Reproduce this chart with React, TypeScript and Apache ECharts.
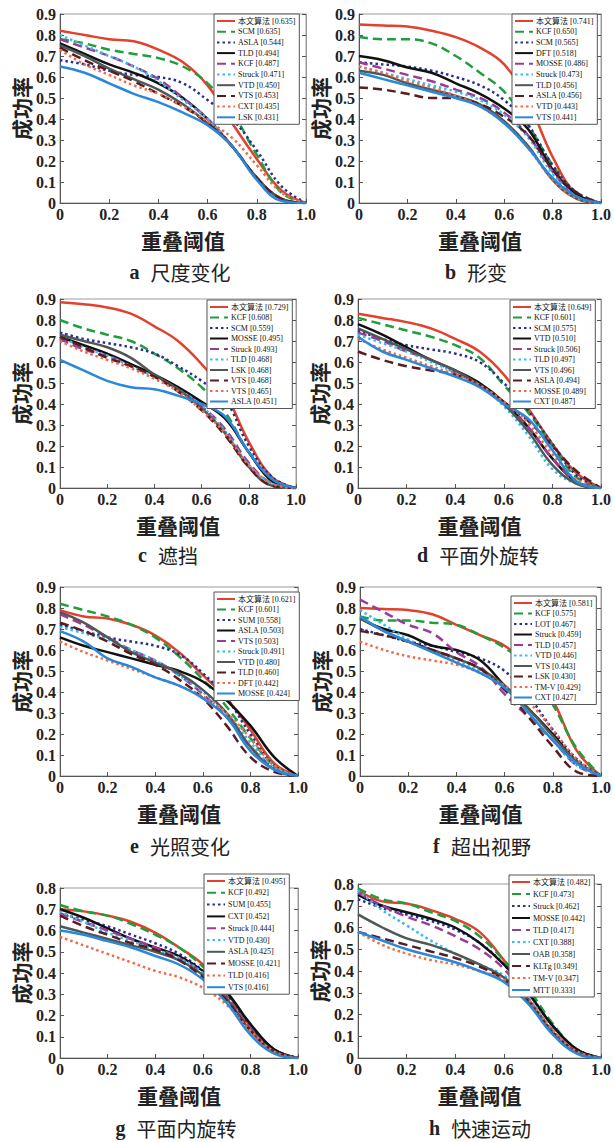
import React, { useEffect, useRef } from "react";
import * as echarts from "echarts";

// thresholds (x axis)
const XS = [0, 0.1, 0.2, 0.3, 0.4, 0.5, 0.6, 0.7, 0.8, 0.9, 1.0];

// a 尺度变化
const aLabels = ["本文算法 [0.635]", "SCM [0.635]", "ASLA [0.544]", "TLD [0.494]", "KCF [0.487]", "Struck [0.471]", "VTD [0.450]", "VTS [0.453]", "CXT [0.435]", "LSK [0.431]"];
const aValues = [
  [0.82, 0.8, 0.78, 0.77, 0.73, 0.67, 0.56, 0.38, 0.21, 0.06, 0],
  [0.78, 0.76, 0.73, 0.71, 0.69, 0.65, 0.57, 0.43, 0.23, 0.05, 0],
  [0.68, 0.66, 0.63, 0.61, 0.6, 0.57, 0.49, 0.4, 0.25, 0.08, 0],
  [0.76, 0.71, 0.66, 0.62, 0.57, 0.5, 0.4, 0.27, 0.12, 0.02, 0],
  [0.78, 0.74, 0.7, 0.65, 0.59, 0.5, 0.4, 0.27, 0.12, 0.02, 0],
  [0.8, 0.75, 0.7, 0.65, 0.58, 0.49, 0.4, 0.27, 0.12, 0.02, 0],
  [0.75, 0.7, 0.64, 0.59, 0.54, 0.47, 0.38, 0.27, 0.12, 0.02, 0],
  [0.74, 0.68, 0.63, 0.58, 0.52, 0.46, 0.38, 0.27, 0.12, 0.02, 0],
  [0.73, 0.66, 0.61, 0.56, 0.52, 0.46, 0.39, 0.31, 0.18, 0.05, 0],
  [0.65, 0.62, 0.57, 0.52, 0.48, 0.43, 0.37, 0.27, 0.11, 0.01, 0],
];

// b 形变
const bLabels = ["本文算法 [0.741]", "KCF [0.650]", "SCM [0.565]", "DFT [0.518]", "MOSSE [0.486]", "Struck [0.473]", "TLD [0.456]", "ASLA [0.456]", "VTD [0.443]", "VTS [0.441]"];
const bValues = [
  [0.85, 0.845, 0.84, 0.82, 0.79, 0.74, 0.66, 0.48, 0.22, 0.04, 0],
  [0.79, 0.78, 0.78, 0.76, 0.7, 0.62, 0.53, 0.37, 0.18, 0.04, 0],
  [0.67, 0.66, 0.65, 0.63, 0.6, 0.56, 0.49, 0.37, 0.18, 0.05, 0],
  [0.7, 0.68, 0.645, 0.62, 0.57, 0.52, 0.45, 0.35, 0.16, 0.04, 0],
  [0.67, 0.64, 0.61, 0.58, 0.54, 0.5, 0.43, 0.32, 0.15, 0.03, 0],
  [0.65, 0.62, 0.59, 0.56, 0.53, 0.49, 0.42, 0.31, 0.14, 0.03, 0],
  [0.63, 0.61, 0.57, 0.54, 0.51, 0.47, 0.39, 0.27, 0.11, 0.02, 0],
  [0.55, 0.54, 0.52, 0.5, 0.5, 0.47, 0.41, 0.32, 0.16, 0.05, 0],
  [0.65, 0.62, 0.58, 0.55, 0.51, 0.46, 0.38, 0.26, 0.11, 0.02, 0],
  [0.62, 0.59, 0.56, 0.53, 0.5, 0.46, 0.38, 0.26, 0.12, 0.03, 0],
];

// c 遮挡
const cLabels = ["本文算法 [0.729]", "KCF [0.608]", "SCM [0.559]", "MOSSE [0.495]", "Struck [0.493]", "TLD [0.468]", "LSK [0.468]", "VTS [0.468]", "VTS [0.465]", "ASLA [0.451]"];
const cValues = [
  [0.885, 0.875, 0.86, 0.83, 0.77, 0.7, 0.59, 0.45, 0.22, 0.05, 0],
  [0.8, 0.76, 0.73, 0.7, 0.64, 0.57, 0.48, 0.36, 0.17, 0.04, 0],
  [0.74, 0.71, 0.69, 0.67, 0.64, 0.58, 0.51, 0.42, 0.2, 0.05, 0],
  [0.72, 0.68, 0.64, 0.59, 0.54, 0.48, 0.41, 0.33, 0.17, 0.03, 0],
  [0.71, 0.66, 0.63, 0.58, 0.53, 0.47, 0.39, 0.28, 0.12, 0.02, 0],
  [0.72, 0.67, 0.63, 0.58, 0.53, 0.47, 0.39, 0.27, 0.11, 0.02, 0],
  [0.73, 0.7, 0.67, 0.62, 0.54, 0.47, 0.38, 0.26, 0.1, 0.01, 0],
  [0.72, 0.67, 0.62, 0.58, 0.53, 0.46, 0.37, 0.25, 0.1, 0.01, 0],
  [0.7, 0.65, 0.61, 0.57, 0.52, 0.46, 0.37, 0.26, 0.11, 0.02, 0],
  [0.61, 0.56, 0.51, 0.48, 0.47, 0.44, 0.4, 0.34, 0.17, 0.04, 0],
];

// d 平面外旋转
const dLabels = ["本文算法 [0.649]", "KCF [0.601]", "SCM [0.575]", "VTD [0.510]", "Struck [0.506]", "TLD [0.497]", "VTS [0.496]", "ASLA [0.494]", "MOSSE [0.489]", "CXT [0.487]"];
const dValues = [
  [0.83, 0.81, 0.79, 0.76, 0.71, 0.65, 0.54, 0.38, 0.21, 0.07, 0],
  [0.81, 0.78, 0.75, 0.72, 0.68, 0.62, 0.49, 0.36, 0.2, 0.05, 0],
  [0.75, 0.71, 0.68, 0.66, 0.64, 0.6, 0.5, 0.37, 0.21, 0.06, 0],
  [0.78, 0.73, 0.67, 0.61, 0.56, 0.5, 0.41, 0.29, 0.14, 0.03, 0],
  [0.74, 0.7, 0.65, 0.61, 0.55, 0.49, 0.4, 0.29, 0.14, 0.03, 0],
  [0.73, 0.69, 0.65, 0.6, 0.55, 0.49, 0.39, 0.25, 0.09, 0.02, 0],
  [0.76, 0.71, 0.66, 0.61, 0.56, 0.49, 0.4, 0.27, 0.11, 0.02, 0],
  [0.65, 0.61, 0.58, 0.56, 0.54, 0.49, 0.41, 0.32, 0.2, 0.08, 0],
  [0.71, 0.66, 0.62, 0.58, 0.54, 0.49, 0.41, 0.31, 0.16, 0.04, 0],
  [0.72, 0.65, 0.61, 0.57, 0.53, 0.48, 0.4, 0.33, 0.18, 0.03, 0],
];

// e 光照变化
const eLabels = ["本文算法 [0.621]", "KCF [0.601]", "SUM [0.558]", "ASLA [0.503]", "VTS [0.503]", "Struck [0.491]", "VTD [0.480]", "TLD [0.460]", "DFT [0.442]", "MOSSE [0.424]"];
const eValues = [
  [0.79, 0.76, 0.75, 0.72, 0.67, 0.59, 0.48, 0.37, 0.22, 0.06, 0],
  [0.82, 0.79, 0.76, 0.72, 0.66, 0.57, 0.46, 0.33, 0.18, 0.05, 0],
  [0.72, 0.69, 0.66, 0.64, 0.62, 0.58, 0.49, 0.37, 0.2, 0.05, 0],
  [0.66, 0.62, 0.59, 0.56, 0.53, 0.5, 0.45, 0.36, 0.24, 0.09, 0],
  [0.77, 0.72, 0.66, 0.6, 0.55, 0.48, 0.39, 0.28, 0.14, 0.04, 0],
  [0.71, 0.68, 0.65, 0.6, 0.55, 0.48, 0.4, 0.3, 0.16, 0.04, 0],
  [0.78, 0.73, 0.66, 0.59, 0.54, 0.49, 0.41, 0.3, 0.14, 0.03, 0],
  [0.73, 0.69, 0.64, 0.58, 0.53, 0.46, 0.37, 0.24, 0.09, 0.02, 0],
  [0.64, 0.59, 0.55, 0.51, 0.47, 0.43, 0.38, 0.3, 0.18, 0.05, 0],
  [0.69, 0.64, 0.56, 0.52, 0.47, 0.43, 0.37, 0.28, 0.12, 0.03, 0],
];

// f 超出视野
const fLabels = ["本文算法 [0.581]", "KCF [0.575]", "LOT [0.467]", "Struck [0.459]", "TLD [0.457]", "VTD [0.446]", "VTS [0.443]", "LSK [0.430]", "TM-V [0.429]", "CXT [0.427]"];
const fValues = [
  [0.8, 0.795, 0.79, 0.77, 0.72, 0.67, 0.62, 0.52, 0.36, 0.12, 0],
  [0.76, 0.74, 0.74, 0.73, 0.72, 0.67, 0.61, 0.52, 0.34, 0.13, 0],
  [0.7, 0.67, 0.64, 0.62, 0.59, 0.56, 0.5, 0.38, 0.22, 0.08, 0],
  [0.75, 0.7, 0.67, 0.62, 0.6, 0.55, 0.43, 0.32, 0.2, 0.07, 0],
  [0.84, 0.78, 0.72, 0.68, 0.59, 0.52, 0.39, 0.28, 0.17, 0.05, 0],
  [0.79, 0.72, 0.65, 0.6, 0.55, 0.5, 0.42, 0.3, 0.17, 0.05, 0],
  [0.75, 0.69, 0.64, 0.6, 0.56, 0.51, 0.43, 0.32, 0.19, 0.07, 0],
  [0.69, 0.67, 0.64, 0.6, 0.56, 0.51, 0.41, 0.28, 0.14, 0.02, 0],
  [0.64, 0.6, 0.57, 0.55, 0.53, 0.49, 0.43, 0.35, 0.22, 0.08, 0],
  [0.76, 0.69, 0.64, 0.59, 0.54, 0.49, 0.42, 0.3, 0.17, 0.06, 0],
];

// g 平面内旋转
const gLabels = ["本文算法 [0.495]", "KCF [0.492]", "SUM [0.455]", "CXT [0.452]", "Struck [0.444]", "VTD [0.430]", "ASLA [0.425]", "MOSSE [0.421]", "TLD [0.416]", "VTS [0.416]"];
const gValues = [
  [0.7, 0.69, 0.67, 0.64, 0.59, 0.52, 0.44, 0.31, 0.15, 0.04, 0],
  [0.72, 0.69, 0.67, 0.63, 0.58, 0.52, 0.43, 0.31, 0.16, 0.04, 0],
  [0.68, 0.65, 0.62, 0.58, 0.54, 0.49, 0.41, 0.3, 0.15, 0.04, 0],
  [0.7, 0.66, 0.61, 0.56, 0.52, 0.48, 0.41, 0.31, 0.16, 0.04, 0],
  [0.68, 0.64, 0.6, 0.56, 0.52, 0.47, 0.4, 0.29, 0.14, 0.03, 0],
  [0.69, 0.64, 0.59, 0.55, 0.51, 0.47, 0.4, 0.28, 0.13, 0.03, 0],
  [0.62, 0.59, 0.56, 0.53, 0.5, 0.46, 0.39, 0.28, 0.13, 0.03, 0],
  [0.67, 0.62, 0.58, 0.54, 0.51, 0.46, 0.38, 0.27, 0.13, 0.03, 0],
  [0.57, 0.53, 0.49, 0.45, 0.41, 0.38, 0.33, 0.25, 0.13, 0.03, 0],
  [0.6, 0.58, 0.55, 0.52, 0.48, 0.44, 0.37, 0.26, 0.11, 0.02, 0],
];

// h 快速运动
const hLabels = ["本文算法 [0.482]", "KCF [0.473]", "Struck [0.462]", "MOSSE [0.442]", "TLD [0.417]", "CXT [0.388]", "OAB [0.358]", "KLTg [0.349]", "TM-V [0.347]", "MTT [0.333]"];
const hValues = [
  [0.77, 0.72, 0.71, 0.68, 0.64, 0.58, 0.45, 0.3, 0.15, 0.04, 0],
  [0.78, 0.73, 0.71, 0.67, 0.63, 0.56, 0.45, 0.32, 0.16, 0.04, 0],
  [0.73, 0.69, 0.66, 0.63, 0.59, 0.53, 0.43, 0.3, 0.15, 0.04, 0],
  [0.75, 0.7, 0.67, 0.64, 0.6, 0.53, 0.43, 0.3, 0.15, 0.04, 0],
  [0.76, 0.7, 0.65, 0.61, 0.56, 0.5, 0.41, 0.27, 0.13, 0.03, 0],
  [0.77, 0.68, 0.61, 0.54, 0.48, 0.43, 0.38, 0.28, 0.13, 0.03, 0],
  [0.66, 0.6, 0.55, 0.52, 0.48, 0.43, 0.37, 0.27, 0.12, 0.03, 0],
  [0.58, 0.55, 0.52, 0.49, 0.46, 0.42, 0.36, 0.26, 0.12, 0.03, 0],
  [0.58, 0.52, 0.48, 0.45, 0.43, 0.4, 0.36, 0.27, 0.13, 0.03, 0],
  [0.58, 0.54, 0.5, 0.47, 0.44, 0.4, 0.35, 0.25, 0.11, 0.02, 0],
];

const CAPTION_LETTERS = ["a", "b", "c", "d", "e", "f", "g", "h"];
const CAPTION_TEXTS = ["尺度变化", "形变", "遮挡", "平面外旋转", "光照变化", "超出视野", "平面内旋转", "快速运动"];
const Y_MAX = [0.9, 0.9, 0.9, 0.9, 0.9, 0.9, 0.8, 0.8];

const ALL_LABELS = [aLabels, bLabels, cLabels, dLabels, eLabels, fLabels, gLabels, hLabels];
const ALL_VALUES = [aValues, bValues, cValues, dValues, eValues, fValues, gValues, hValues];

// layout (pixels)
const GRIDS = [
  { left: 60, top: 14, width: 246, height: 189 },
  { left: 359, top: 14, width: 246, height: 189 },
  { left: 60, top: 299, width: 236, height: 189 },
  { left: 358, top: 299, width: 244, height: 189 },
  { left: 60, top: 587, width: 238, height: 189 },
  { left: 360, top: 587, width: 242, height: 189 },
  { left: 60, top: 888, width: 238, height: 170 },
  { left: 358, top: 884, width: 244, height: 174 },
];
const LEGEND_POS = [
  { left: 214, top: 14, gap: 2.7 },
  { left: 512, top: 14, gap: 2.7 },
  { left: 207, top: 300, gap: 2.5 },
  { left: 510, top: 300, gap: 2.5 },
  { left: 214, top: 592, gap: 2.5 },
  { left: 511, top: 596, gap: 2.5 },
  { left: 204, top: 874, gap: 3.8 },
  { left: 509, top: 875, gap: 4 },
];
const CAPTION_POS = [
  { x: 180, y: 262 },
  { x: 476, y: 262 },
  { x: 168, y: 545 },
  { x: 478, y: 545 },
  { x: 180, y: 836 },
  { x: 482, y: 836 },
  { x: 176, y: 1118 },
  { x: 480, y: 1118 },
];

const LINE_STYLES: { color: string; type: any }[] = [
  { color: "#e2412d", type: "solid" },
  { color: "#1f9e3e", type: [9, 5] },
  { color: "#27308f", type: [2.5, 3] },
  { color: "#111111", type: "solid" },
  { color: "#9b3b95", type: [9, 5] },
  { color: "#35bdf0", type: [2.5, 3] },
  { color: "#4f5757", type: "solid" },
  { color: "#5b1c1f", type: [9, 5] },
  { color: "#f26a48", type: [2.5, 3] },
  { color: "#2a88d8", type: "solid" },
];

const SERIF = '"Liberation Serif", "DejaVu Serif", "Noto Sans CJK SC", serif';
const CJK = '"Noto Sans CJK SC", "Liberation Serif", serif';

function fmt(v: number) {
  if (Math.abs(v) < 1e-9) return "0";
  return (Math.round(v * 10) / 10).toFixed(1);
}

function buildOption() {
  const grid: any[] = [];
  const xAxis: any[] = [];
  const yAxis: any[] = [];
  const series: any[] = [];
  const legend: any[] = [];
  const title: any[] = [];

  for (let p = 0; p < 8; p++) {
    grid.push({
      ...GRIDS[p],
      show: true,
      borderColor: "#9a9a9a",
      borderWidth: 1,
      containLabel: false,
    });
    xAxis.push({
      type: "value",
      gridIndex: p,
      min: 0,
      max: 1,
      interval: 0.2,
      name: "重叠阈值",
      nameLocation: "middle",
      nameGap: 26,
      nameTextStyle: { fontFamily: CJK, fontSize: 21, fontWeight: "bold", color: "#222" },
      axisLine: { show: true, lineStyle: { color: "#555", width: 1 } },
      axisTick: { show: true, inside: true, length: 4, lineStyle: { color: "#555" } },
      axisLabel: {
        formatter: fmt,
        fontFamily: SERIF,
        fontWeight: "bold",
        fontSize: 16,
        color: "#222",
        margin: 3,
      },
      splitLine: { show: false },
    });
    const base = {
      type: "value",
      gridIndex: p,
      min: 0,
      max: Y_MAX[p],
      interval: 0.1,
      splitLine: { show: false },
    };
    yAxis.push({
      ...base,
      position: "left",
      name: "成功率",
      nameLocation: "middle",
      nameGap: 29,
      nameRotate: 90,
      nameTextStyle: { fontFamily: CJK, fontSize: 21, fontWeight: "bold", color: "#222" },
      axisLine: { show: true, lineStyle: { color: "#555", width: 1 } },
      axisTick: { show: true, inside: true, length: 4, lineStyle: { color: "#555" } },
      axisLabel: {
        formatter: fmt,
        fontFamily: SERIF,
        fontWeight: "bold",
        fontSize: 16,
        color: "#222",
        margin: 4,
      },
    });
    yAxis.push({
      ...base,
      position: "right",
      axisLine: { show: true, lineStyle: { color: "#9a9a9a", width: 1 } },
      axisTick: { show: true, inside: true, length: 4, lineStyle: { color: "#555" } },
      axisLabel: { show: false },
    });

    const labels = ALL_LABELS[p];
    const values = ALL_VALUES[p];
    labels.forEach((name, i) => {
      const st = LINE_STYLES[i];
      series.push({
        type: "line",
        name,
        xAxisIndex: p,
        yAxisIndex: p * 2,
        data: XS.map((x, j) => [x, values[i][j]]),
        symbol: "none",
        smooth: 0.4,
        lineStyle: { color: st.color, width: 2.5, type: st.type },
        itemStyle: { color: st.color },
        z: 2,
      });
    });

    legend.push({
      orient: "vertical",
      left: LEGEND_POS[p].left,
      top: LEGEND_POS[p].top,
      data: labels,
      itemWidth: 18,
      itemHeight: 8,
      itemGap: LEGEND_POS[p].gap,
      padding: [3, 4, 3, 2],
      backgroundColor: "#ffffff",
      borderColor: "#555",
      borderWidth: 1,
      selectedMode: false,
      itemStyle: { color: "transparent", borderColor: "transparent", borderWidth: 0, opacity: 0 },
      textStyle: { fontFamily: SERIF, fontSize: 8, lineHeight: 8, color: "#111", padding: [0, 0, 0, -2] },
      z: 10,
    });

    title.push({
      text: "{l|" + CAPTION_LETTERS[p] + "}  {c|" + CAPTION_TEXTS[p] + "}",
      left: CAPTION_POS[p].x,
      top: CAPTION_POS[p].y,
      textAlign: "center",
      padding: 0,
      textStyle: {
        fontSize: 20,
        lineHeight: 20,
        color: "#222",
        rich: {
          l: { fontFamily: SERIF, fontWeight: "bold", fontSize: 20, lineHeight: 20, color: "#222" },
          c: { fontFamily: CJK, fontWeight: "normal", fontSize: 20, lineHeight: 20, color: "#222" },
        },
      },
    });
  }

  return {
    animation: false,
    backgroundColor: "#ffffff",
    title,
    grid,
    xAxis,
    yAxis,
    series,
    legend,
  };
}

export default function App() {
  const ref = useRef<HTMLDivElement>(null);
  useEffect(() => {
    document.body.style.margin = "0";
    if (!ref.current) return;
    const chart = echarts.init(ref.current, undefined, { renderer: "svg" });
    chart.setOption(buildOption() as any);
    return () => chart.dispose();
  }, []);
  return <div ref={ref} style={{ width: 614, height: 1142 }} />;
}
